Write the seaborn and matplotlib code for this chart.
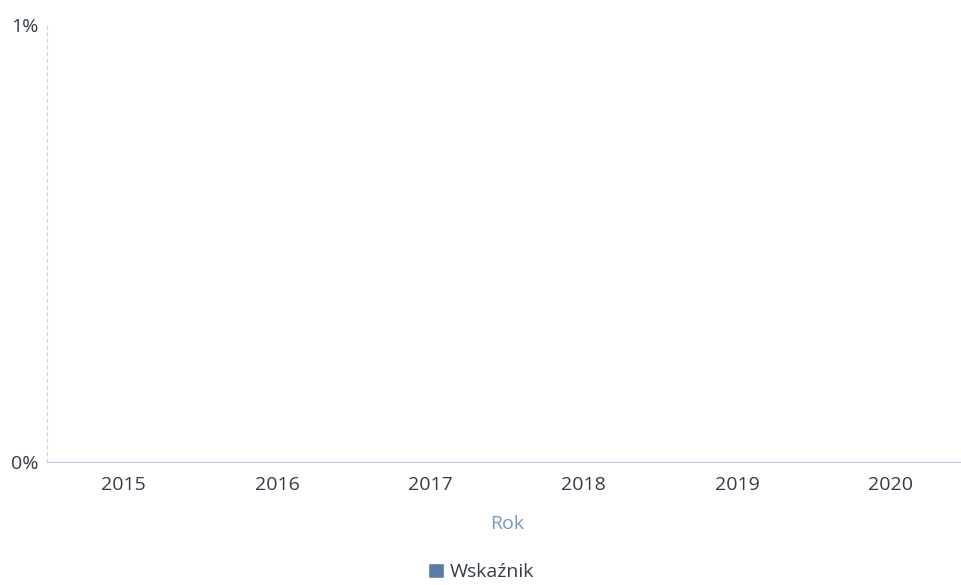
import pandas as pd
import numpy as np
import matplotlib
matplotlib.use("Agg")
import matplotlib.pyplot as plt
import seaborn as sns
from matplotlib.ticker import FuncFormatter

# data: every year sits at 0%
years = ["2015", "2016", "2017", "2018", "2019", "2020"]
values = [0, 0, 0, 0, 0, 0]
series_name = "Wskaźnik"

df = pd.DataFrame({"Rok": years, "value": values, "series": series_name})

sns.set_theme(style="white")
plt.rcParams['font.family'] = ['Open Sans', 'DejaVu Sans']

fig, ax = plt.subplots(figsize=(9.62, 5.85), dpi=100)
fig.subplots_adjust(left=0.049, right=1.005, top=0.957, bottom=0.21)

sns.barplot(data=df, x="Rok", y="value", hue="series", palette=["#4a7db3"],
            ax=ax, width=0.6, legend=True)

ax.set_ylim(0, 0.01)
ax.set_yticks([0, 0.01])
ax.yaxis.set_major_formatter(FuncFormatter(lambda v, p: f"{v*100:.0f}%"))
ax.tick_params(axis="both", length=0, labelsize=14, colors="#343c48")
ax.tick_params(axis="x", pad=10)
ax.tick_params(axis="y", pad=6)
ax.set_xlabel("Rok", fontsize=14, color="#7a98c4", labelpad=15)
ax.set_ylabel("")

for side in ["top", "right"]:
    ax.spines[side].set_visible(False)
ax.spines["left"].set_color("#c8d6ea")
ax.spines["left"].set_linestyle((0, (3, 3)))
ax.spines["left"].set_linewidth(0.8)
ax.spines["bottom"].set_color("#b8cbe2")
ax.spines["bottom"].set_linewidth(0.8)

handles, labels = ax.get_legend_handles_labels()
ax.get_legend().remove()
fig.legend(handles, labels, loc="center", bbox_to_anchor=(0.5, 0.022), frameon=False,
           fontsize=14, handlelength=0.85, handleheight=0.85, handletextpad=0.3,
           labelcolor="#343c48", borderpad=0)

plt.savefig("out.png", dpi=100, facecolor="white")
